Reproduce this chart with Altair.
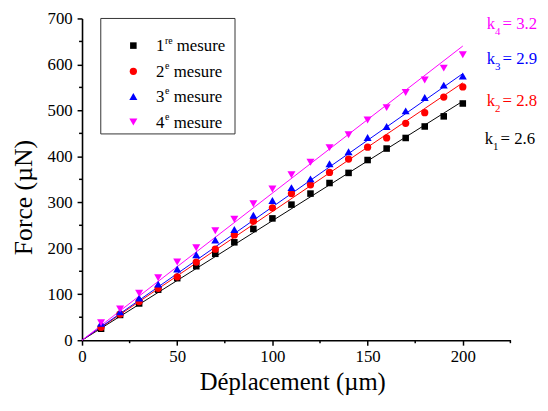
import altair as alt
import pandas as pd

# ---------------- data ----------------
x_vals = [10, 20, 30, 40, 50, 60, 70, 80, 90, 100,
          110, 120, 130, 140, 150, 160, 170, 180, 190, 200]
m1 = [25, 55, 80, 110, 135, 161, 188, 213, 242, 265,
      295, 319, 342, 364, 392, 417, 440, 465, 487, 515]
m2 = [28, 57, 84, 113, 138, 170, 198, 229, 259, 288,
      319, 338, 365, 394, 420, 440, 472, 495, 529, 551]
m3 = [37, 62, 92, 122, 155, 186, 218, 241, 272, 304,
      332, 351, 384, 410, 441, 465, 499, 528, 555, 575]
m4 = [38, 68, 102, 136, 170, 201, 238, 263, 297, 329,
      360, 387, 419, 447, 479, 506, 539, 566, 592, 621]
series_names = ["m1", "m2", "m3", "m4"]
slopes = [2.6, 2.8, 2.9, 3.2]
slope_labels = ["2.6", "2.8", "2.9", "3.2"]
fit_x = [0, 200]
colors = ["#000000", "#ff0000", "#0000ff", "#ff00ff"]
shapes = ["square", "circle", "triangle-up", "triangle-down"]
sizes = [44, 54, 66, 66]
legend_num = ["1", "2", "3", "4"]
legend_sup = ["re", "e", "e", "e"]
x_major = [0, 50, 100, 150, 200]
x_minor = [25, 75, 125, 175, 225]
y_major = [0, 100, 200, 300, 400, 500, 600, 700]
y_minor = [50, 150, 250, 350, 450, 550, 650]

FONT = "Liberation Serif"
W, H = 434, 326

xscale = alt.Scale(domain=[0, 225], nice=False)
yscale = alt.Scale(domain=[0, 700], nice=False)

xaxis = alt.Axis(values=x_major, title="Déplacement (µm)", grid=False,
                 tickSize=5, tickWidth=1.5, tickColor="black",
                 domainWidth=1.6, domainColor="black",
                 labelFont=FONT, labelFontSize=17, labelColor="black",
                 labelPadding=4, labelFlush=False,
                 titleFont=FONT, titleFontSize=25, titleFontWeight="normal",
                 titleColor="black", titleBaseline="alphabetic",
                 titleY=50, titleX=213)
yaxis = alt.Axis(values=y_major, title="Force (µN)", grid=False,
                 tickSize=5, tickWidth=1.5, tickColor="black",
                 domainWidth=1.6, domainColor="black",
                 labelFont=FONT, labelFontSize=17, labelColor="black",
                 labelPadding=5, labelFlush=False,
                 titleFont=FONT, titleFontSize=26, titleFontWeight="normal",
                 titleColor="black", titleBaseline="alphabetic",
                 titleAngle=270, titleX=-51, titleY=181)

X = lambda f: alt.X(f, scale=xscale, axis=xaxis)
Y = lambda f: alt.Y(f, scale=yscale, axis=yaxis)

layers = []

# fit lines
for i, name in enumerate(series_names):
    df_fit = pd.DataFrame({"x": fit_x, "y": [slopes[i] * v for v in fit_x]})
    layers.append(
        alt.Chart(df_fit).mark_line(color=colors[i], strokeWidth=1)
        .encode(x=X("x:Q"), y=Y("y:Q"))
    )

# points
for i, vals in enumerate([m1, m2, m3, m4]):
    df_pts = pd.DataFrame({"x": x_vals, "y": vals})
    layers.append(
        alt.Chart(df_pts).mark_point(filled=True, opacity=1, shape=shapes[i],
                                     size=sizes[i], color=colors[i])
        .encode(x=X("x:Q"), y=Y("y:Q"))
    )

# minor ticks
layers.append(
    alt.Chart(pd.DataFrame({"x": x_minor})).mark_rule(color="black", strokeWidth=1.5)
    .encode(x=X("x:Q"), y=alt.value(H), y2=alt.value(H + 3))
)
layers.append(
    alt.Chart(pd.DataFrame({"y": y_minor})).mark_rule(color="black", strokeWidth=1.5)
    .encode(y=Y("y:Q"), x=alt.value(0), x2=alt.value(-3))
)

one = pd.DataFrame({"a": [0]})

# legend box
layers.append(
    alt.Chart(one).mark_rect(fill="white", stroke="#333333", strokeWidth=1)
    .encode(x=alt.value(19), x2=alt.value(155), y=alt.value(0), y2=alt.value(117))
)
row_y = [27.5, 53.5, 79, 105]
for i in range(4):
    layers.append(
        alt.Chart(one).mark_point(filled=True, opacity=1, shape=shapes[i],
                                  size=sizes[i], color=colors[i])
        .encode(x=alt.value(52), y=alt.value(row_y[i]))
    )
    layers.append(
        alt.Chart(one).mark_text(text=legend_num[i], font=FONT, fontSize=17,
                                 align="left", baseline="alphabetic", color="black")
        .encode(x=alt.value(75), y=alt.value(row_y[i] + 5.5))
    )
    layers.append(
        alt.Chart(one).mark_text(text=legend_sup[i], font=FONT, fontSize=10,
                                 align="left", baseline="alphabetic", color="black")
        .encode(x=alt.value(84), y=alt.value(row_y[i] - 2))
    )
    layers.append(
        alt.Chart(one).mark_text(text="mesure", font=FONT, fontSize=17,
                                 align="left", baseline="alphabetic", color="black")
        .encode(x=alt.value(96 if legend_sup[i] == "re" else 93),
                y=alt.value(row_y[i] + 5.5))
    )

# slope annotations (k1..k4)
ann_y = [127, 89, 46, 11]
ann_x = [408, 410, 410, 410]
for i in range(4):
    layers.append(
        alt.Chart(one).mark_text(text="k", font=FONT, fontSize=17, align="left",
                                 baseline="alphabetic", color=colors[i])
        .encode(x=alt.value(ann_x[i]), y=alt.value(ann_y[i]))
    )
    layers.append(
        alt.Chart(one).mark_text(text=str(i + 1), font=FONT, fontSize=11, align="left",
                                 baseline="alphabetic", color=colors[i])
        .encode(x=alt.value(ann_x[i] + 8.5), y=alt.value(ann_y[i] + 6))
    )
    layers.append(
        alt.Chart(one).mark_text(text="= " + slope_labels[i], font=FONT, fontSize=17,
                                 align="left", baseline="alphabetic", color=colors[i])
        .encode(x=alt.value(ann_x[i] + 16), y=alt.value(ann_y[i]))
    )

chart = alt.layer(*layers).properties(
    width=W, height=H,
    padding={"left": 75, "top": 8, "right": 30, "bottom": 60},
    autosize=alt.AutoSizeParams(type="none"),
    background="white",
).configure_view(stroke=None)

chart.save("out.html", embed_options={"renderer": "svg", "actions": False})
